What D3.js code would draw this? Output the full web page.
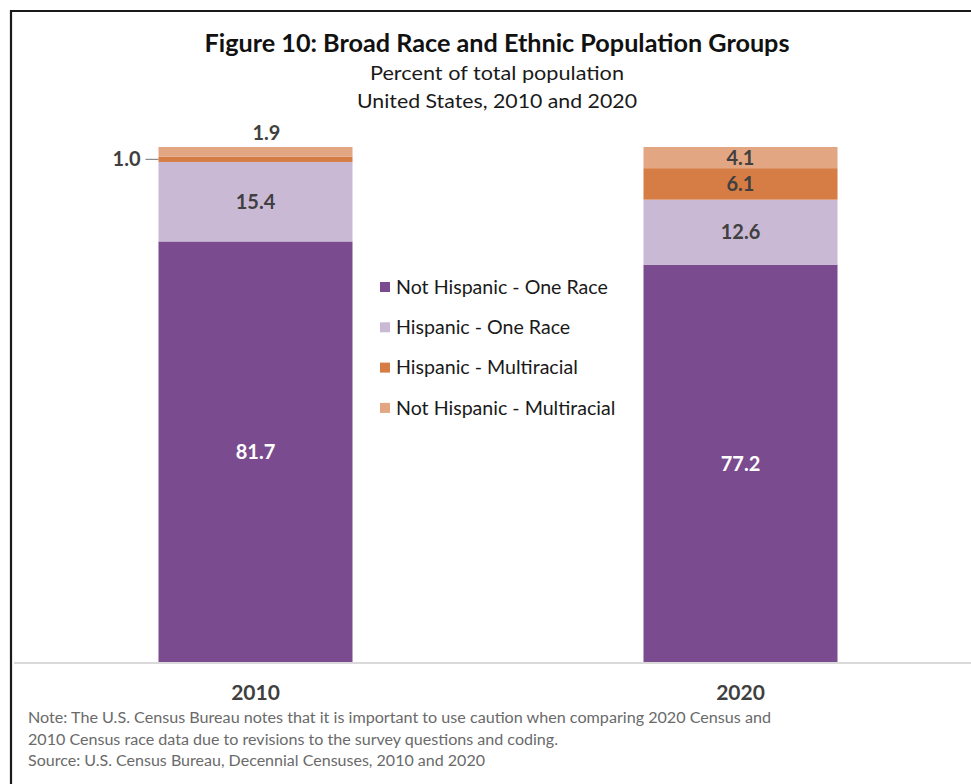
<!DOCTYPE html>
<html>
<head>
<meta charset="utf-8">
<script src="https://cdn.jsdelivr.net/npm/d3@7"></script>
<style>
  html, body { margin: 0; padding: 0; background: #fff; }
  svg { display: block; }
  text { font-family: Lato, "Open Sans", sans-serif; }
</style>
</head>
<body>
<svg id="chart" width="971" height="784"></svg>
<script>
// Census years on the x axis
const years = ["2010", "2020"];
// Stack order, bottom to top
const groups = ["Not Hispanic - One Race", "Hispanic - One Race", "Hispanic - Multiracial", "Not Hispanic - Multiracial"];
// Percent of total population per group, one value per year
const notHispOneRace = [81.7, 77.2];
const hispOneRace = [15.4, 12.6];
const hispMulti = [1.0, 6.1];
const notHispMulti = [1.9, 4.1];
const colors = ["#7a4b8e", "#c9b9d5", "#d67c45", "#e3a683"];
const noteLines = [
  "Note: The U.S. Census Bureau notes that it is important to use caution when comparing 2020 Census and",
  "2010 Census race data due to revisions to the survey questions and coding.",
  "Source: U.S. Census Bureau, Decennial Censuses, 2010 and 2020"
];

const seriesValues = [notHispOneRace, hispOneRace, hispMulti, notHispMulti];
const table = years.map((y, i) => {
  const row = { year: y };
  groups.forEach((g, k) => row[g] = seriesValues[k][i]);
  return row;
});

const svg = d3.select("#chart");
const W = 971, H = 784;

// outer frame
svg.append("path")
  .attr("d", `M11,${H + 5} V11 H${W + 5}`)
  .attr("fill", "none").attr("stroke", "#1a1a1a").attr("stroke-width", 2.2);

const x = d3.scaleBand().domain(years).range([13, 983]).paddingInner(0.6).paddingOuter(0.3);
const y = d3.scaleLinear().domain([0, 100]).range([663, 147]);

const stack = d3.stack().keys(groups)(table);

const layers = svg.append("g").selectAll("g").data(stack).join("g")
  .attr("fill", (d, i) => colors[i]);

layers.selectAll("rect").data(d => d.map(p => ({ p, key: d.key }))).join("rect")
  .attr("x", d => x(d.p.data.year))
  .attr("width", x.bandwidth())
  .attr("y", d => y(d.p[1]))
  .attr("height", d => y(d.p[0]) - y(d.p[1]));

// axis baseline and category labels
const xAxis = svg.append("g").attr("transform", "translate(0,663)")
  .call(d3.axisBottom(x).tickSize(0).tickPadding(22));
xAxis.select(".domain").attr("d", "M14,0H971").attr("stroke", "#d9d9d9").attr("stroke-width", 2);
xAxis.selectAll(".tick text")
  .attr("font-family", "Lato, sans-serif").attr("font-size", 21).attr("font-weight", "bold")
  .attr("fill", "#404040");

// value labels
const labelG = svg.append("g").attr("font-weight", "bold").attr("font-size", 20).attr("text-anchor", "middle");
stack.forEach((layer, k) => {
  layer.forEach(p => {
    const v = p.data[layer.key];
    const cx = x(p.data.year) + x.bandwidth() / 2;
    const t = labelG.append("text").text(v.toFixed(1));
    const segH = y(p[0]) - y(p[1]);
    if (segH >= 15) {
      t.attr("x", cx).attr("y", (y(p[0]) + y(p[1])) / 2).attr("dy", "0.35em")
        .attr("fill", k === 0 ? "#ffffff" : "#404040");
    } else if (k === groups.length - 1) {
      // thin top segment: label above the bar
      t.attr("x", cx + 11).attr("y", y(p[1]) - 7).attr("fill", "#404040");
    } else {
      // thin segment: label on the left with a leader line
      const my = (y(p[0]) + y(p[1])) / 2;
      t.attr("x", x(p.data.year) - 18).attr("y", my).attr("dy", "0.35em")
        .attr("text-anchor", "end").attr("fill", "#404040");
      svg.append("line").attr("x1", x(p.data.year) - 13).attr("x2", x(p.data.year))
        .attr("y1", my).attr("y2", my).attr("stroke", "#8c8c8c").attr("stroke-width", 1.2);
    }
  });
});

// legend
const legend = svg.append("g").attr("transform", "translate(380,287)");
groups.forEach((g, i) => {
  const row = legend.append("g").attr("transform", `translate(0,${i * 40.3})`);
  row.append("rect").attr("x", 0).attr("y", -5).attr("width", 10).attr("height", 10).attr("fill", colors[i]);
  row.append("text").attr("x", 16).attr("y", 0).attr("dy", "0.35em")
    .attr("font-size", 19.6).attr("fill", "#1a1a1a").text(g);
});

// titles
svg.append("text").attr("x", 497).attr("y", 52).attr("text-anchor", "middle")
  .attr("font-size", 25).attr("font-weight", "bold").attr("fill", "#111")
  .attr("textLength", 585).attr("lengthAdjust", "spacingAndGlyphs")
  .text("Figure 10: Broad Race and Ethnic Population Groups");
svg.append("text").attr("x", 497).attr("y", 80).attr("text-anchor", "middle")
  .attr("font-size", 20).attr("fill", "#1a1a1a")
  .attr("textLength", 254).attr("lengthAdjust", "spacingAndGlyphs")
  .text("Percent of total population");
svg.append("text").attr("x", 497).attr("y", 108).attr("text-anchor", "middle")
  .attr("font-size", 20).attr("fill", "#1a1a1a")
  .attr("textLength", 280).attr("lengthAdjust", "spacingAndGlyphs")
  .text("United States, 2010 and 2020");

// notes
const noteWidths = [743, 530, 457];
svg.append("g").selectAll("text").data(noteLines).join("text")
  .attr("x", 28).attr("y", (d, i) => 723 + i * 21.5)
  .attr("font-size", 15.5).attr("fill", "#6a6a6a")
  .attr("textLength", (d, i) => noteWidths[i]).attr("lengthAdjust", "spacingAndGlyphs")
  .text(d => d);
</script>
</body>
</html>
